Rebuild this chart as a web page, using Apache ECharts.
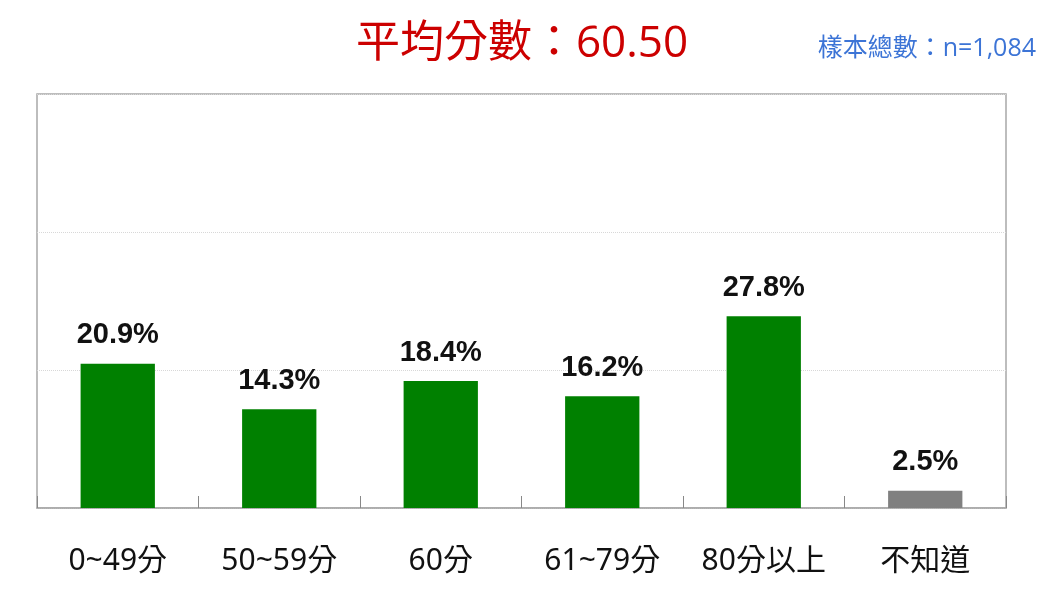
<!DOCTYPE html>
<html><head><meta charset="utf-8">
<script src="https://cdn.jsdelivr.net/npm/echarts@6/dist/echarts.min.js"></script>
<style>html,body{margin:0;padding:0;background:#fff}#c{width:1060px;height:596px}</style>
</head><body><div id="c"></div>
<script>
const categories = ['0~49分','50~59分','60分','61~79分','80分以上','不知道'];
const values = [20.9, 14.3, 18.4, 16.2, 27.8, 2.5];
const barColors = ['#008000','#008000','#008000','#008000','#008000','#808080'];
const titleText = '平均分數：60.50';
const subText = '樣本總數：n=1,084';

const chart = echarts.init(document.getElementById('c'));
chart.setOption({
  backgroundColor: '#fff',
  animation: false,
  title: [
    {text: titleText, left: 517, top: 17, textAlign: 'center',
     textStyle: {color: '#cc0000', fontSize: 44, fontWeight: 'normal', fontFamily: '"Open Sans", "Noto Sans CJK TC"'}},
    {text: subText, right: 19, top: 31,
     textStyle: {color: '#3c74d6', fontSize: 25, fontWeight: 'normal', fontFamily: '"Open Sans", "Noto Sans CJK TC"'}}
  ],
  grid: {left: 37, right: 54, top: 94, bottom: 88, show: true, borderColor: '#a8a8a8', borderWidth: 1.5, containLabel: false},
  xAxis: {
    type: 'category', data: categories,
    axisLine: {lineStyle: {color: '#a8a8a8', width: 1.5}},
    axisTick: {show: true, inside: true, length: 12, interval: 0, lineStyle: {color: '#888'}},
    axisLabel: {color: '#111', fontSize: 30, margin: 38, interval: 0, hideOverlap: false, fontFamily: '"Noto Sans", "Noto Sans CJK TC"'}
  },
  yAxis: {
    type: 'value', min: 0, max: 60, interval: 20,
    axisLabel: {show: false}, axisLine: {show: false}, axisTick: {show: false},
    splitLine: {show: true, lineStyle: {color: '#d8d8d8', type: 'dotted', width: 1}}
  },
  series: [{
    type: 'bar', data: values.map((v, i) => ({value: v, itemStyle: {color: barColors[i]}})),
    barWidth: '46%',
    label: {show: true, position: 'top', distance: 14, formatter: p => p.value.toFixed(1) + '%',
      color: '#111', fontSize: 29, fontWeight: 'bold', fontFamily: 'Liberation Sans'}
  }]
});
</script></body></html>
